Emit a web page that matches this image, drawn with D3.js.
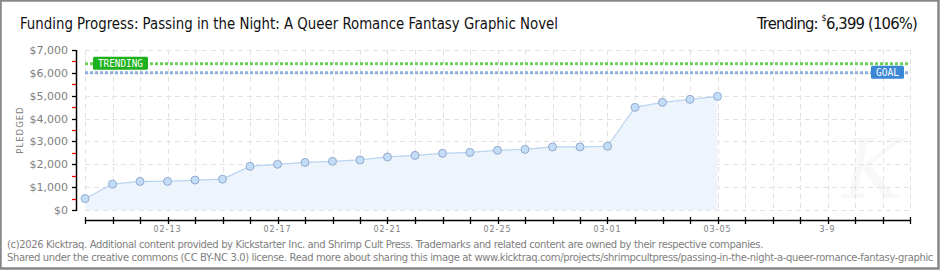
<!DOCTYPE html>
<meta charset="utf-8">
<head>
  <title>Funding Progress</title>
  <style>
    body { margin: 0; background: #fff; }
    svg { display: block; }
  </style>
</head>

<!-- Load d3.js -->
<script src="https://d3js.org/d3.v7.min.js"></script>

<svg id="chart" width="940" height="270"></svg>

<script>
// data
var dates = ["2026-02-10", "2026-02-11", "2026-02-12", "2026-02-13", "2026-02-14", "2026-02-15",
             "2026-02-16", "2026-02-17", "2026-02-18", "2026-02-19", "2026-02-20", "2026-02-21",
             "2026-02-22", "2026-02-23", "2026-02-24", "2026-02-25", "2026-02-26", "2026-02-27",
             "2026-02-28", "2026-03-01", "2026-03-02", "2026-03-03", "2026-03-04", "2026-03-05"]
var pledged = [500, 1130, 1250, 1250, 1310, 1350, 1910, 2000, 2080, 2130, 2190, 2320,
               2390, 2480, 2520, 2610, 2650, 2760, 2760, 2790, 4490, 4710, 4840, 4970]
var goal = 6000
var trending = 6399
var trendingPct = 106
var xStart = "2026-02-10", xEnd = "2026-03-12"
var xLabelDates = ["2026-02-13", "2026-02-17", "2026-02-21", "2026-02-25", "2026-03-01", "2026-03-05", "2026-03-09"]
var xLabelTexts = ["02-13", "02-17", "02-21", "02-25", "03-01", "03-05", "3-9"]
var yTicks = [0, 1000, 2000, 3000, 4000, 5000, 6000, 7000]
var yMinorTicks = [500, 1500, 2500, 3500, 4500, 5500, 6500]

var parse = d3.timeParse("%Y-%m-%d")
var svg = d3.select("svg")

var x = d3.scaleTime()
  .domain([parse(xStart), parse(xEnd)])
  .range([85, 910])
var y = d3.scaleLinear()
  .domain([0, 7000])
  .range([210, 50])

var days = d3.timeDay.range(parse(xStart), d3.timeDay.offset(parse(xEnd), 1))
var points = dates.map((d, i) => ({date: parse(d), value: pledged[i]}))

// squeeze a text to a width by letter-spacing, keeps the real box honest
function fitWidth(sel, w) {
  let node = sel.node()
  let n = node.textContent.length
  let natural = node.getComputedTextLength()
  sel.style("letter-spacing", ((w - natural) / n) + "px")
}

// frame
svg.append("rect")
  .attr("x", 0.5).attr("y", 0.5).attr("width", 938).attr("height", 268)
  .attr("fill", "#fff").attr("stroke", "#888").attr("stroke-width", 2.5)

// watermark
svg.append("text")
  .attr("x", 842).attr("y", 198)
  .text("K")
  .style("font-family", "'DejaVu Serif', serif")
  .style("font-style", "italic")
  .style("font-size", "82px")
  .attr("fill", "#f8f8f8")

// title
svg.append("text")
  .attr("x", 20).attr("y", 29)
  .text("Funding Progress: Passing in the Night: A Queer Romance Fantasy Graphic Novel")
  .attr("textLength", 538).attr("lengthAdjust", "spacingAndGlyphs")
  .style("font-family", "'DejaVu Sans Condensed', 'Liberation Sans Narrow', sans-serif")
  .style("font-size", "16.5px").attr("fill", "#111")

var trendTitle = svg.append("text")
  .attr("x", 917).attr("y", 29).attr("text-anchor", "end")
  .style("font-family", "'DejaVu Sans Condensed', 'Liberation Sans Narrow', sans-serif")
  .style("font-size", "16.5px").attr("fill", "#111")
trendTitle.append("tspan").text("Trending: ")
trendTitle.append("tspan").text("$").style("font-size", "9px").attr("dy", -8)
trendTitle.append("tspan").text(d3.format(",")(trending) + " (" + trendingPct + "%)").attr("dy", 8)
fitWidth(trendTitle, 160)

// grid
var grid = svg.append("g").attr("stroke", "#e2e2e2").attr("stroke-width", 1).attr("stroke-dasharray", "5,4")
grid.selectAll(".vg").data(days).enter().append("line")
  .attr("x1", d => Math.round(x(d)) + 0.5).attr("x2", d => Math.round(x(d)) + 0.5)
  .attr("y1", y(7000)).attr("y2", y(0))
grid.selectAll(".hg").data(yTicks).enter().append("line")
  .attr("x1", x(parse(xStart))).attr("x2", x(parse(xEnd)))
  .attr("y1", d => Math.round(y(d)) + 0.5).attr("y2", d => Math.round(y(d)) + 0.5)

// area + line
svg.append("path").datum(points)
  .attr("d", d3.area().x(d => x(d.date)).y0(y(0)).y1(d => y(d.value)))
  .attr("fill", "#eef4fc")
svg.append("path").datum(points)
  .attr("d", d3.line().x(d => x(d.date)).y(d => y(d.value)))
  .attr("fill", "none").attr("stroke", "#b9d4f1").attr("stroke-width", 1.2)

// goal and trending lines
function refLine(v, color) {
  svg.append("line")
    .attr("x1", x(parse(xStart))).attr("x2", x(parse(xEnd)))
    .attr("y1", y(v)).attr("y2", y(v))
    .attr("stroke", color).attr("stroke-width", 3).attr("stroke-dasharray", "3,2")
}
refLine(trending, "#6ccf5a")
refLine(goal, "#8fb1de")

function refLabel(txt, v, xpos, w, color) {
  let g = svg.append("g")
  g.append("rect")
    .attr("x", xpos).attr("y", y(v) - 7).attr("width", w).attr("height", 13)
    .attr("rx", 1.5).attr("fill", color)
  g.append("text")
    .attr("x", xpos + 5).attr("y", y(v) + 3.5)
    .text(txt)
    .attr("textLength", w - 10).attr("lengthAdjust", "spacingAndGlyphs")
    .style("font-family", "'DejaVu Sans Mono', monospace").style("font-size", "10px")
    .attr("fill", "#fff")
}
refLabel("TRENDING", trending, 93, 55, "#1db21d")
refLabel("GOAL", goal, 871, 33, "#3a87d6")

// points
svg.selectAll(".pt").data(points).enter().append("circle")
  .attr("cx", d => x(d.date)).attr("cy", d => y(d.value))
  .attr("r", 4)
  .attr("fill", "#c3dcf7").attr("stroke", "#93abcc").attr("stroke-width", 1)

// y axis
var yAxis = svg.append("g")
yAxis.append("line").attr("x1", 76.5).attr("x2", 76.5).attr("y1", y(7000)).attr("y2", y(0) + 1)
  .attr("stroke", "#000").attr("stroke-width", 1.5)
yAxis.selectAll(".yt").data(yTicks).enter().append("line")
  .attr("x1", 72).attr("x2", 76).attr("y1", d => Math.round(y(d)) + 0.5).attr("y2", d => Math.round(y(d)) + 0.5)
  .attr("stroke", "#000").attr("stroke-width", 1.3)
yAxis.selectAll(".ym").data(yMinorTicks).enter().append("line")
  .attr("x1", 72).attr("x2", 76).attr("y1", d => Math.round(y(d)) + 0.5).attr("y2", d => Math.round(y(d)) + 0.5)
  .attr("stroke", "#e00").attr("stroke-width", 1.3)
yAxis.selectAll(".yl").data(yTicks).enter().append("text")
  .attr("x", 68).attr("y", d => y(d) + 4)
  .attr("text-anchor", "end")
  .text(d => "$" + d3.format(",")(d))
  .style("font-family", "'DejaVu Sans', sans-serif").style("font-size", "11px")
  .attr("fill", "#808080")

svg.append("text")
  .attr("transform", "translate(23,130) rotate(-90)")
  .attr("text-anchor", "middle")
  .text("PLEDGED")
  .style("font-family", "'DejaVu Sans', sans-serif").style("font-size", "8.5px")
  .style("letter-spacing", "1px").attr("fill", "#808080")

// x axis
var xAxis = svg.append("g")
xAxis.append("line").attr("x1", x(parse(xStart))).attr("x2", x(parse(xEnd)))
  .attr("y1", 220.5).attr("y2", 220.5).attr("stroke", "#000").attr("stroke-width", 1.5)
xAxis.selectAll(".xt").data(days).enter().append("line")
  .attr("x1", d => Math.round(x(d)) + 0.5).attr("x2", d => Math.round(x(d)) + 0.5)
  .attr("y1", 217).attr("y2", 224)
  .attr("stroke", "#000").attr("stroke-width", 1.3)
xAxis.selectAll(".xl").data(xLabelDates).enter().append("text")
  .attr("x", d => x(parse(d))).attr("y", 232)
  .attr("text-anchor", "middle")
  .text((d, i) => xLabelTexts[i])
  .style("font-family", "'DejaVu Sans', sans-serif").style("font-size", "8px")
  .style("letter-spacing", "1px").attr("fill", "#808080")

// footer
var footer = svg.append("g")
  .style("font-family", "'DejaVu Sans', sans-serif").style("font-size", "10px").attr("fill", "#808080")
var f1 = footer.append("text").attr("x", 7).attr("y", 248)
  .text("(c)2026 Kicktraq. Additional content provided by Kickstarter Inc. and Shrimp Cult Press. Trademarks and related content are owned by their respective companies.")
fitWidth(f1, 756)
var f2 = footer.append("text").attr("x", 7).attr("y", 261)
  .text("Shared under the creative commons (CC BY-NC 3.0) license. Read more about sharing this image at www.kicktraq.com/projects/shrimpcultpress/passing-in-the-night-a-queer-romance-fantasy-graphic")
fitWidth(f2, 926)
</script>
